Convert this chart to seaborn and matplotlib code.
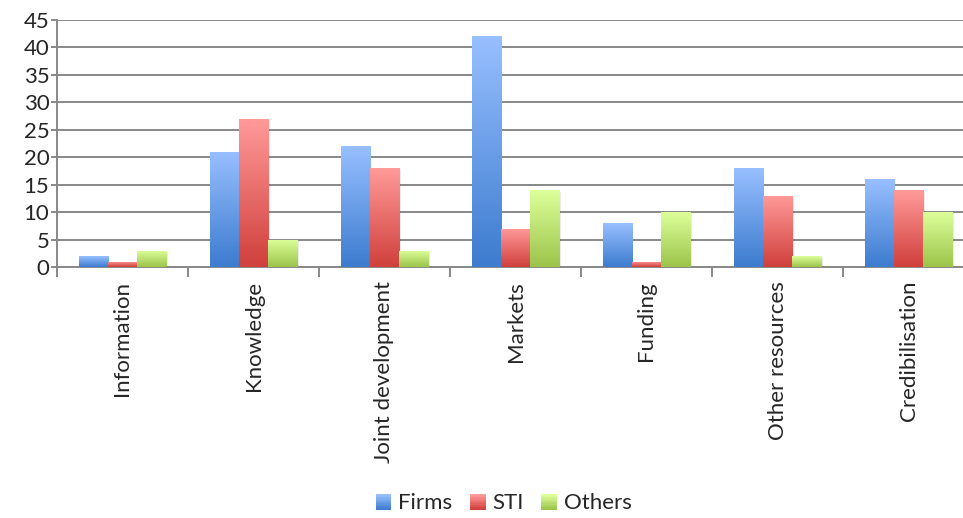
import numpy as np
import pandas as pd
import matplotlib
matplotlib.use("Agg")
import matplotlib.pyplot as plt
import seaborn as sns
from matplotlib.patches import Rectangle
from matplotlib.legend_handler import HandlerBase

categories = ["Information", "Knowledge", "Joint development", "Markets",
              "Funding", "Other resources", "Credibilisation"]
series = ["Firms", "STI", "Others"]
firms = [2, 21, 22, 42, 8, 18, 16]
sti = [1, 27, 18, 7, 1, 13, 14]
others = [3, 5, 3, 14, 10, 2, 10]

# top / bottom colours of the gradient fill for each series
grad = {
    "Firms": ("#97bfff", "#3d7ccf"),
    "STI": ("#ff9a99", "#d0403c"),
    "Others": ("#ddff9a", "#9cc44a"),
}

df = pd.DataFrame({
    "category": np.repeat(categories, 3),
    "series": series * len(categories),
    "value": np.ravel(np.column_stack([firms, sti, others])),
})

sns.set_style("white")
plt.rcParams["font.family"] = ["Lato", "DejaVu Sans"]
FS = 16

fig = plt.figure(figsize=(9.63, 5.18), dpi=100)
ax = fig.add_axes([57 / 963, 1 - 267 / 518, 917 / 963, 247 / 518])

mid = {s: tuple((np.array(matplotlib.colors.to_rgb(a)) + np.array(matplotlib.colors.to_rgb(b))) / 2)
       for s, (a, b) in grad.items()}
sns.barplot(data=df, x="category", y="value", hue="series", hue_order=series,
            order=categories, palette=mid, width=0.67, legend=False, ax=ax,
            zorder=3)


def gradient(top, bottom, n=64):
    t = np.linspace(0, 1, n)[:, None]
    c1 = np.array(matplotlib.colors.to_rgb(top))
    c2 = np.array(matplotlib.colors.to_rgb(bottom))
    return (c1 * (1 - t) + c2 * t)[:, None, :]


# replace flat fills by vertical gradients, clipped to each bar
for i, container in enumerate(ax.containers):
    top, bottom = grad[series[i]]
    img = gradient(top, bottom)
    for bar in container:
        x, y = bar.get_x(), bar.get_y()
        w, h = bar.get_width(), bar.get_height()
        # soft shadow on the right
        ax.add_patch(Rectangle((x + 0.012, y), w, h - 0.25, facecolor="#000000",
                               alpha=0.08, lw=0, zorder=2.5))
        bar.set_facecolor("none")
        bar.set_edgecolor("none")
        im = ax.imshow(img, extent=[x, x + w, y, y + h], aspect="auto",
                       origin="upper", zorder=3, interpolation="bilinear")
        im.set_clip_path(bar)

ax.set_xlim(-0.5, 6.5)
ax.set_ylim(0, 45)
ax.set_yticks(range(0, 50, 5))
ax.set_xticks(range(len(categories)))
ax.set_xticklabels(categories, rotation=90, fontsize=FS)
ax.set_xticks(np.arange(-0.5, 7, 1), minor=True)
ax.tick_params(axis="x", which="major", length=0, pad=10)
ax.tick_params(axis="x", which="minor", length=7.5, width=1.4, color="#888888",
               direction="out", bottom=True)
ax.tick_params(axis="y", length=4.5, width=1.4, color="#888888", labelsize=FS,
               pad=1, left=True)
ax.set_xlabel("")
ax.set_ylabel("")
ax.grid(axis="y", color="#888888", lw=1.4, zorder=0)
ax.set_axisbelow(True)
for side in ["top", "right"]:
    ax.spines[side].set_visible(False)
for side in ["left", "bottom"]:
    ax.spines[side].set_color("#888888")
    ax.spines[side].set_linewidth(1.4)


class GradHandler(HandlerBase):
    def create_artists(self, legend, orig, xd, yd, width, height, fontsize, trans):
        top, bottom = orig.grad
        cols = gradient(top, bottom, 12)[:, 0, :]
        side = height * 1.0
        x0 = xd + width - side
        y0 = -yd + (height - side) / 2 - 1
        arts = []
        for k, c in enumerate(cols):
            arts.append(Rectangle((x0, y0 + side * (1 - (k + 1) / len(cols))),
                                  side, side / len(cols) + 0.3, facecolor=c,
                                  lw=0, transform=trans))
        return arts


handles = []
for s in series:
    r = Rectangle((0, 0), 1, 1)
    r.grad = grad[s]
    handles.append(r)

fig.legend(handles, series, loc="center", bbox_to_anchor=(0.523, 0.029), ncol=3,
           frameon=False, fontsize=FS, handler_map={Rectangle: GradHandler()},
           handlelength=0.7, handletextpad=0.3, columnspacing=0.8)

fig.savefig("out.png", dpi=100)
